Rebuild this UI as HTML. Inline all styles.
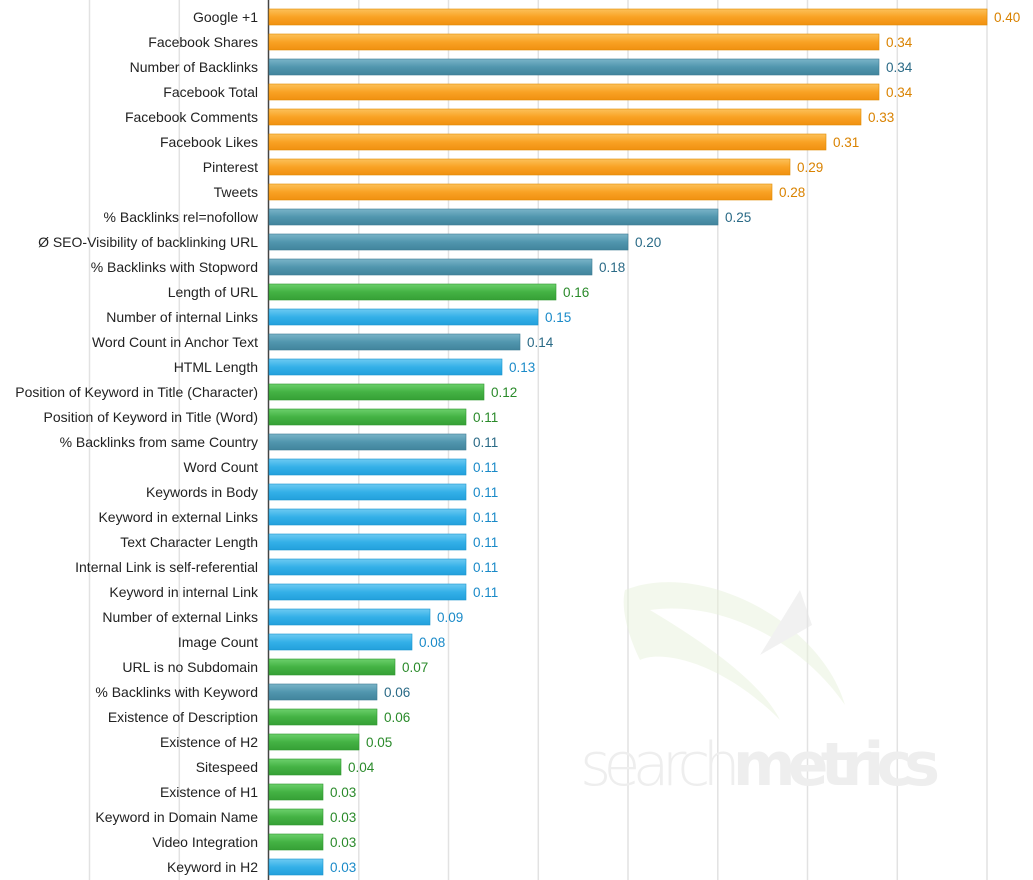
<!DOCTYPE html>
<html><head><meta charset="utf-8"><style>
html,body{margin:0;padding:0;background:#fff;}
svg{display:block;font-family:"Liberation Sans",sans-serif;font-size:13.5px;}
.l{fill:#222;text-anchor:end;font-size:14px;}
.o{fill:url(#go);stroke:#e08a00;stroke-width:.6}
.t{fill:url(#gt);stroke:#3d7a92;stroke-width:.6}
.g{fill:url(#gg);stroke:#2f962f;stroke-width:.6}
.b{fill:url(#gb);stroke:#1a94cc;stroke-width:.6}
.vo{fill:#d98200}.vt{fill:#2a6a86}.vg{fill:#2a8a2a}.vb{fill:#1a8ac8}
</style></head><body>
<svg width="1033" height="880" viewBox="0 0 1033 880">
<defs>
<linearGradient id="go" x1="0" y1="0" x2="0" y2="1"><stop offset="0" stop-color="#fcc15a"/><stop offset=".5" stop-color="#f9a224"/><stop offset="1" stop-color="#f09010"/></linearGradient>
<linearGradient id="gt" x1="0" y1="0" x2="0" y2="1"><stop offset="0" stop-color="#7ab4c8"/><stop offset=".5" stop-color="#5196ae"/><stop offset="1" stop-color="#41849c"/></linearGradient>
<linearGradient id="gg" x1="0" y1="0" x2="0" y2="1"><stop offset="0" stop-color="#6cd06c"/><stop offset=".5" stop-color="#44b244"/><stop offset="1" stop-color="#36a036"/></linearGradient>
<linearGradient id="gb" x1="0" y1="0" x2="0" y2="1"><stop offset="0" stop-color="#6ccaf2"/><stop offset=".5" stop-color="#34b0e8"/><stop offset="1" stop-color="#22a0dc"/></linearGradient>
</defs>
<g stroke="#e2e2e2" stroke-width="1.5">
<line x1="89.5" y1="0" x2="89.5" y2="880"/><line x1="179.3" y1="0" x2="179.3" y2="880"/>
<line x1="358.8" y1="0" x2="358.8" y2="880"/><line x1="448.5" y1="0" x2="448.5" y2="880"/>
<line x1="538.3" y1="0" x2="538.3" y2="880"/><line x1="628" y1="0" x2="628" y2="880"/>
<line x1="717.8" y1="0" x2="717.8" y2="880"/><line x1="807.5" y1="0" x2="807.5" y2="880"/>
<line x1="897.3" y1="0" x2="897.3" y2="880"/><line x1="987" y1="0" x2="987" y2="880"/>
</g>
<g opacity=".5">
<path d="M625 590 C700 560 820 620 845 705 C800 640 720 600 650 610 C700 640 760 680 780 720 C720 660 660 650 640 660 C630 640 620 610 625 590Z" fill="#e8f2dc"/>
<path d="M760 655 L800 590 L812 625 Z" fill="#e4e4e4"/>
</g>
<text x="580" y="785" font-size="60" fill="#eeeeee" style="font-family:'DejaVu Sans',sans-serif;font-weight:300" textLength="360">search<tspan font-weight="bold">metrics</tspan></text>
<line x1="268.5" y1="0" x2="268.5" y2="880" stroke="#444" stroke-width="1.5"/>
<g>
<rect class="o" x="269" y="9" width="718" height="16"/>
<rect class="o" x="269" y="34" width="610" height="16"/>
<rect class="t" x="269" y="59" width="610" height="16"/>
<rect class="o" x="269" y="84" width="610" height="16"/>
<rect class="o" x="269" y="109" width="592" height="16"/>
<rect class="o" x="269" y="134" width="557" height="16"/>
<rect class="o" x="269" y="159" width="521" height="16"/>
<rect class="o" x="269" y="184" width="503" height="16"/>
<rect class="t" x="269" y="209" width="449" height="16"/>
<rect class="t" x="269" y="234" width="359" height="16"/>
<rect class="t" x="269" y="259" width="323" height="16"/>
<rect class="g" x="269" y="284" width="287" height="16"/>
<rect class="b" x="269" y="309" width="269" height="16"/>
<rect class="t" x="269" y="334" width="251" height="16"/>
<rect class="b" x="269" y="359" width="233" height="16"/>
<rect class="g" x="269" y="384" width="215" height="16"/>
<rect class="g" x="269" y="409" width="197" height="16"/>
<rect class="t" x="269" y="434" width="197" height="16"/>
<rect class="b" x="269" y="459" width="197" height="16"/>
<rect class="b" x="269" y="484" width="197" height="16"/>
<rect class="b" x="269" y="509" width="197" height="16"/>
<rect class="b" x="269" y="534" width="197" height="16"/>
<rect class="b" x="269" y="559" width="197" height="16"/>
<rect class="b" x="269" y="584" width="197" height="16"/>
<rect class="b" x="269" y="609" width="161" height="16"/>
<rect class="b" x="269" y="634" width="143" height="16"/>
<rect class="g" x="269" y="659" width="126" height="16"/>
<rect class="t" x="269" y="684" width="108" height="16"/>
<rect class="g" x="269" y="709" width="108" height="16"/>
<rect class="g" x="269" y="734" width="90" height="16"/>
<rect class="g" x="269" y="759" width="72" height="16"/>
<rect class="g" x="269" y="784" width="54" height="16"/>
<rect class="g" x="269" y="809" width="54" height="16"/>
<rect class="g" x="269" y="834" width="54" height="16"/>
<rect class="b" x="269" y="859" width="54" height="16"/>
</g>
<g class="l">
<text x="258" y="22">Google +1</text>
<text x="258" y="47">Facebook Shares</text>
<text x="258" y="72">Number of Backlinks</text>
<text x="258" y="97">Facebook Total</text>
<text x="258" y="122">Facebook Comments</text>
<text x="258" y="147">Facebook Likes</text>
<text x="258" y="172">Pinterest</text>
<text x="258" y="197">Tweets</text>
<text x="258" y="222">% Backlinks rel=nofollow</text>
<text x="258" y="247">Ø SEO-Visibility of backlinking URL</text>
<text x="258" y="272">% Backlinks with Stopword</text>
<text x="258" y="297">Length of URL</text>
<text x="258" y="322">Number of internal Links</text>
<text x="258" y="347">Word Count in Anchor Text</text>
<text x="258" y="372">HTML Length</text>
<text x="258" y="397">Position of Keyword in Title (Character)</text>
<text x="258" y="422">Position of Keyword in Title (Word)</text>
<text x="258" y="447">% Backlinks from same Country</text>
<text x="258" y="472">Word Count</text>
<text x="258" y="497">Keywords in Body</text>
<text x="258" y="522">Keyword in external Links</text>
<text x="258" y="547">Text Character Length</text>
<text x="258" y="572">Internal Link is self-referential</text>
<text x="258" y="597">Keyword in internal Link</text>
<text x="258" y="622">Number of external Links</text>
<text x="258" y="647">Image Count</text>
<text x="258" y="672">URL is no Subdomain</text>
<text x="258" y="697">% Backlinks with Keyword</text>
<text x="258" y="722">Existence of Description</text>
<text x="258" y="747">Existence of H2</text>
<text x="258" y="772">Sitespeed</text>
<text x="258" y="797">Existence of H1</text>
<text x="258" y="822">Keyword in Domain Name</text>
<text x="258" y="847">Video Integration</text>
<text x="258" y="872">Keyword in H2</text>
</g>
<g>
<text class="vo" x="994" y="22">0.40</text>
<text class="vo" x="886" y="47">0.34</text>
<text class="vt" x="886" y="72">0.34</text>
<text class="vo" x="886" y="97">0.34</text>
<text class="vo" x="868" y="122">0.33</text>
<text class="vo" x="833" y="147">0.31</text>
<text class="vo" x="797" y="172">0.29</text>
<text class="vo" x="779" y="197">0.28</text>
<text class="vt" x="725" y="222">0.25</text>
<text class="vt" x="635" y="247">0.20</text>
<text class="vt" x="599" y="272">0.18</text>
<text class="vg" x="563" y="297">0.16</text>
<text class="vb" x="545" y="322">0.15</text>
<text class="vt" x="527" y="347">0.14</text>
<text class="vb" x="509" y="372">0.13</text>
<text class="vg" x="491" y="397">0.12</text>
<text class="vg" x="473" y="422">0.11</text>
<text class="vt" x="473" y="447">0.11</text>
<text class="vb" x="473" y="472">0.11</text>
<text class="vb" x="473" y="497">0.11</text>
<text class="vb" x="473" y="522">0.11</text>
<text class="vb" x="473" y="547">0.11</text>
<text class="vb" x="473" y="572">0.11</text>
<text class="vb" x="473" y="597">0.11</text>
<text class="vb" x="437" y="622">0.09</text>
<text class="vb" x="419" y="647">0.08</text>
<text class="vg" x="402" y="672">0.07</text>
<text class="vt" x="384" y="697">0.06</text>
<text class="vg" x="384" y="722">0.06</text>
<text class="vg" x="366" y="747">0.05</text>
<text class="vg" x="348" y="772">0.04</text>
<text class="vg" x="330" y="797">0.03</text>
<text class="vg" x="330" y="822">0.03</text>
<text class="vg" x="330" y="847">0.03</text>
<text class="vb" x="330" y="872">0.03</text>
</g>
</svg>
</body></html>
